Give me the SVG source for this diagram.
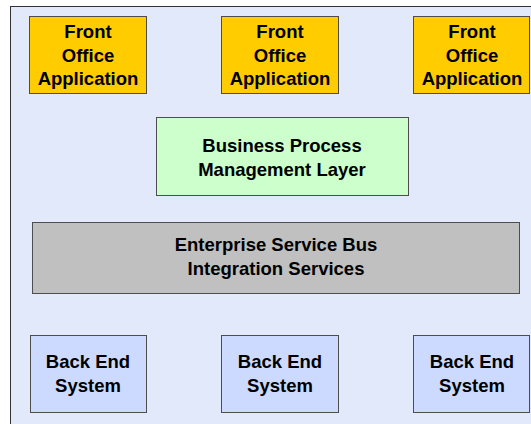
<svg xmlns="http://www.w3.org/2000/svg" width="531" height="424" viewBox="0 0 531 424">
<style>
.t{font-family:"Liberation Sans",Arial,sans-serif;font-weight:bold;font-size:18.5px;fill:#000;text-anchor:middle}
.b{stroke:#4d4d4d;stroke-width:1}
.fo{fill:#ffcc00}
.be{fill:#ccdaff}
</style>
<rect width="531" height="424" fill="#ffffff"/>
<g id="container"><rect x="10.5" y="6.5" width="530" height="430" fill="#e1e9fb" stroke="#333" stroke-width="1"/></g>
<g id="connectors"></g>
<g id="fo1"><rect class="b fo" x="29.5" y="16.5" width="117" height="77"/><text class="t" x="88" y="38">Front</text><text class="t" x="88" y="61.5">Office</text><text class="t" x="88" y="85">Application</text></g>
<g id="fo2"><rect class="b fo" x="221.5" y="16.5" width="117" height="77"/><text class="t" x="280" y="38">Front</text><text class="t" x="280" y="61.5">Office</text><text class="t" x="280" y="85">Application</text></g>
<g id="fo3"><rect class="b fo" x="413.5" y="16.5" width="116" height="77"/><text class="t" x="472" y="38">Front</text><text class="t" x="472" y="61.5">Office</text><text class="t" x="472" y="85">Application</text></g>
<g id="bpm"><rect class="b" x="156.5" y="117.5" width="252" height="78" fill="#ccffcc"/><text class="t" x="282" y="152">Business Process</text><text class="t" x="282" y="176">Management Layer</text></g>
<g id="esb"><rect class="b" x="32.5" y="222.5" width="487" height="71" fill="#c0c0c0"/><text class="t" x="276" y="251">Enterprise Service Bus</text><text class="t" x="276" y="275">Integration Services</text></g>
<g id="be1"><rect class="b be" x="30.5" y="335.5" width="116" height="77"/><text class="t" x="88" y="368">Back End</text><text class="t" x="88" y="392">System</text></g>
<g id="be2"><rect class="b be" x="221.5" y="335.5" width="117" height="77"/><text class="t" x="280" y="368">Back End</text><text class="t" x="280" y="392">System</text></g>
<g id="be3"><rect class="b be" x="413.5" y="335.5" width="116" height="77"/><text class="t" x="472" y="368">Back End</text><text class="t" x="472" y="392">System</text></g>
</svg>
